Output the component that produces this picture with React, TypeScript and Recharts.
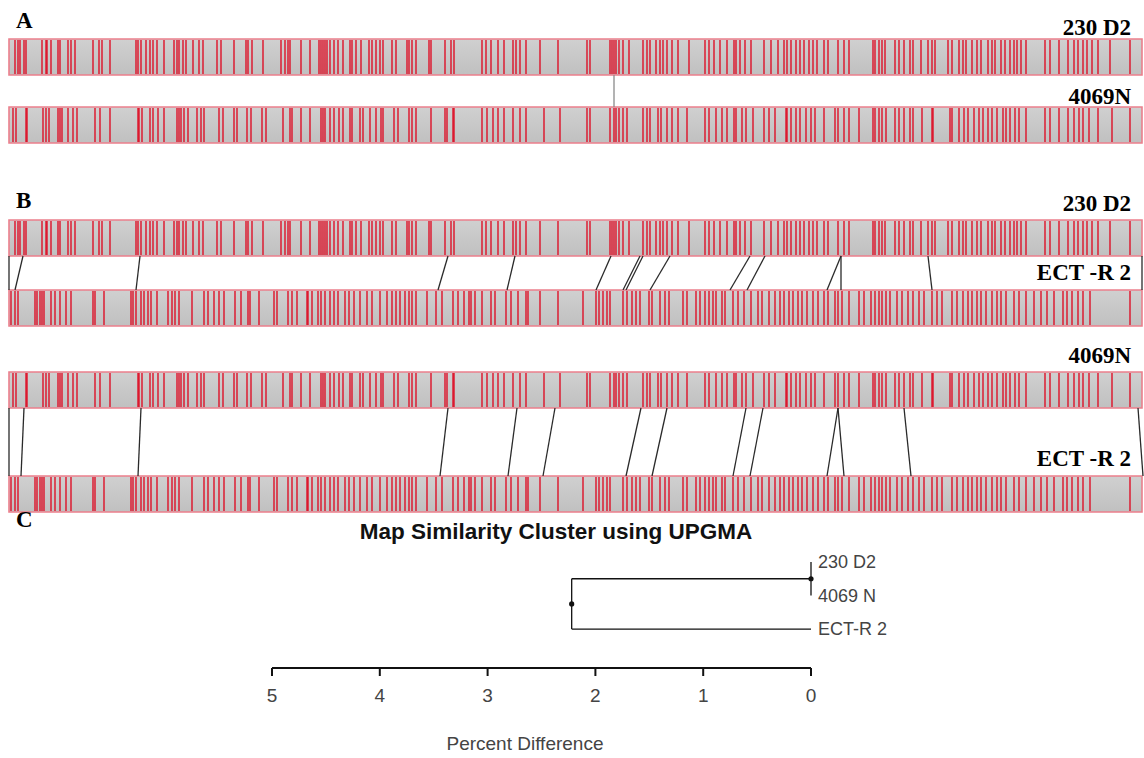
import React from "react"
import { ComposedChart, XAxis, YAxis, Scatter, ReferenceArea, ReferenceLine } from "recharts"

const W = 1144
const H = 758

// restriction site positions (map units = drawing width)
const sites230D2 = [
  15, 18, 20, 24, 26, 42, 46, 47, 51, 58, 60, 68, 71, 75, 93, 99, 102, 110, 136, 138, 141, 146, 150, 153, 157, 164,
  174, 177, 179, 183, 186, 193, 199, 203, 217, 221, 234, 246, 248, 252, 263, 281, 285, 288, 290, 301, 310, 319, 321,
  323, 325, 327, 330, 334, 338, 343, 350, 352, 356, 361, 369, 372, 376, 380, 383, 392, 396, 407, 409, 412, 416, 429,
  431, 445, 451, 454, 482, 486, 491, 498, 504, 513, 516, 520, 526, 540, 558, 587, 590, 610, 612, 614, 616, 619, 623,
  629, 643, 647, 650, 656, 660, 663, 667, 672, 678, 689, 705, 709, 714, 720, 727, 734, 736, 740, 745, 751, 764, 771,
  778, 784, 787, 791, 796, 800, 804, 809, 813, 817, 824, 828, 838, 844, 849, 873, 875, 879, 882, 885, 895, 899, 904,
  910, 913, 921, 928, 932, 935, 948, 952, 959, 963, 966, 972, 977, 981, 988, 992, 995, 1001, 1005, 1010, 1014, 1017,
  1021, 1026, 1045, 1050, 1059, 1068, 1074, 1078, 1083, 1087, 1092, 1098, 1110, 1130,
]
const sites4069N = [
  13, 16, 26, 27, 43, 46, 49, 58, 60, 62, 68, 73, 77, 95, 100, 110, 138, 139, 142, 150, 153, 158, 164, 177, 179, 181,
  184, 188, 197, 201, 204, 219, 223, 234, 237, 247, 251, 262, 266, 283, 290, 292, 301, 310, 321, 323, 325, 330, 334,
  339, 343, 350, 352, 360, 363, 370, 376, 381, 383, 394, 398, 409, 412, 416, 431, 445, 447, 453, 454, 482, 487, 493,
  498, 504, 513, 520, 526, 544, 560, 587, 590, 610, 614, 616, 619, 623, 627, 643, 647, 650, 658, 661, 667, 672, 678,
  687, 705, 709, 716, 722, 727, 734, 736, 742, 746, 753, 764, 769, 775, 786, 787, 791, 796, 800, 806, 811, 815, 824,
  835, 838, 844, 849, 859, 873, 875, 879, 882, 886, 895, 899, 904, 910, 913, 922, 932, 933, 950, 952, 959, 964, 968,
  974, 979, 983, 988, 992, 997, 1003, 1006, 1010, 1015, 1019, 1026, 1045, 1050, 1059, 1068, 1074, 1079, 1083, 1089,
  1098, 1112, 1130,
]
const sitesECTR2 = [
  11, 15, 18, 35, 37, 40, 42, 44, 51, 55, 60, 66, 71, 93, 95, 104, 131, 133, 136, 141, 144, 148, 151, 157, 168, 172,
  175, 179, 192, 204, 208, 214, 219, 224, 235, 241, 248, 250, 259, 274, 277, 288, 292, 297, 307, 308, 312, 318, 321,
  325, 330, 334, 338, 345, 349, 354, 360, 367, 372, 380, 387, 392, 396, 400, 405, 409, 412, 416, 427, 436, 442, 453,
  458, 464, 469, 471, 475, 482, 491, 495, 506, 511, 518, 526, 528, 540, 558, 583, 596, 599, 603, 607, 610, 623, 627,
  632, 636, 640, 649, 652, 660, 665, 669, 683, 687, 696, 700, 705, 709, 713, 716, 722, 725, 733, 738, 744, 751, 758,
  762, 769, 775, 780, 784, 789, 793, 798, 802, 807, 813, 818, 824, 828, 835, 838, 842, 849, 859, 864, 871, 875, 879,
  882, 886, 890, 897, 902, 908, 913, 919, 924, 932, 937, 942, 952, 957, 963, 968, 972, 977, 981, 986, 992, 997, 1001,
  1006, 1014, 1019, 1026, 1034, 1041, 1047, 1054, 1063, 1067, 1072, 1078, 1083, 1090, 1130,
]

// aligned fragment boundaries: [position on upper map, position on lower map]
const alignA = [[614, 614]]
const align230vsECT = [
  [9, 9], [23, 15], [140, 136], [448, 438], [515, 507], [611, 596], [640, 623], [643, 626], [670, 650],
  [750, 730], [765, 747], [841, 827], [841, 841], [928, 932], [1142, 1142],
]
const align4069vsECT = [
  [9, 9], [24, 21], [141, 138], [448, 440], [517, 508], [555, 543], [641, 626], [667, 652], [746, 733],
  [763, 750], [838, 827], [838, 844], [904, 911], [1138, 1143],
]

// UPGMA clustering
const leafNames = ["230 D2", "4069 N", "ECT-R 2"]
const mergeHeights = [0, 2.22] // percent difference at each merge
const pctTicks = [0, 1, 2, 3, 4, 5]

const MAP_START = 9
const MAP_END = 1142
const MAP_H = 36

const rows = [
  { key: "a1", sites: sites230D2, top: 39 },
  { key: "a2", sites: sites4069N, top: 107 },
  { key: "b1", sites: sites230D2, top: 220 },
  { key: "b2", sites: sitesECTR2, top: 290 },
  { key: "b3", sites: sites4069N, top: 372 },
  { key: "b4", sites: sitesECTR2, top: 476 },
]
const links = [
  { key: "la", pairs: alignA, from: 0, to: 1, color: "#8a8a8a" },
  { key: "lb1", pairs: align230vsECT, from: 2, to: 3, color: "#2a2a2a" },
  { key: "lb2", pairs: align4069vsECT, from: 4, to: 5, color: "#2a2a2a" },
]

const serif = "'Times New Roman', 'Liberation Serif', serif"
const sans = "Arial, 'Liberation Sans', sans-serif"

const SiteTick = (props: any) => {
  const { cx, cy } = props
  if (cx == null || cy == null) return null
  return (
    <line x1={cx} x2={cx} y1={cy - MAP_H / 2 + 1} y2={cy + MAP_H / 2 - 1} stroke="#e0001a" strokeWidth={1.4} strokeOpacity={0.92} />
  )
}

const NodeDot = (props: any) => <circle cx={props.cx} cy={props.cy} r={2.6} fill="#111" />

function Label({ text, x, y, right, size = 23 }: { text: string; x: number; y: number; right?: boolean; size?: number }) {
  return (
    <div
      style={{
        position: "absolute",
        top: y - size / 2,
        left: right ? undefined : x,
        right: right ? W - x : undefined,
        fontFamily: serif,
        fontWeight: "bold",
        fontSize: size,
        lineHeight: `${size}px`,
        whiteSpace: "nowrap",
        color: "#000",
      }}
    >
      {text}
    </div>
  )
}

function MapPanels() {
  return (
    <ComposedChart width={W} height={H} margin={{ top: 0, right: 0, bottom: 0, left: 0 }} style={{ position: "absolute", left: 0, top: 0 }}>
      <defs>
        <linearGradient id="mapFill" x1="0" y1="0" x2="0" y2="1">
          <stop offset="0%" stopColor="#d0d0d0" />
          <stop offset="100%" stopColor="#c0c0c0" />
        </linearGradient>
      </defs>
      <XAxis type="number" dataKey="x" domain={[0, W]} hide allowDataOverflow />
      <YAxis type="number" dataKey="y" domain={[0, H]} reversed hide allowDataOverflow />
      {rows.map((r) => (
        <ReferenceArea
          key={`box-${r.key}`}
          x1={MAP_START}
          x2={MAP_END}
          y1={r.top}
          y2={r.top + MAP_H}
          fill="url(#mapFill)"
          fillOpacity={1}
          stroke="#ec7f8c"
          strokeWidth={1.6}
          ifOverflow="visible"
        />
      ))}
      {rows.map((r) => (
        <Scatter
          key={`sites-${r.key}`}
          data={r.sites.map((x) => ({ x, y: r.top + MAP_H / 2 }))}
          shape={<SiteTick />}
          isAnimationActive={false}
        />
      ))}
      {links.map((l) =>
        l.pairs.map(([a, b], i) => (
          <ReferenceLine
            key={`${l.key}-${i}`}
            segment={[
              { x: a, y: rows[l.from].top + MAP_H },
              { x: b, y: rows[l.to].top },
            ]}
            stroke={l.color}
            strokeWidth={1.3}
            ifOverflow="visible"
          />
        ))
      )}
    </ComposedChart>
  )
}

function Dendrogram() {
  const [h1, h2] = mergeHeights
  const inner = 0.5 // y of the 230 D2 / 4069 N cluster
  const root = (inner + 2) / 2
  const segs = [
    [{ x: h1, y: 0 }, { x: h1, y: 1 }],
    [{ x: h1, y: inner }, { x: h2, y: inner }],
    [{ x: 0, y: 2 }, { x: h2, y: 2 }],
    [{ x: h2, y: inner }, { x: h2, y: 2 }],
  ]
  const nodes = [
    { x: h1, y: inner },
    { x: h2, y: root },
  ]
  return (
    <ComposedChart
      width={W}
      height={H}
      margin={{ top: 562, right: 233, bottom: 60, left: 272 }}
      style={{ position: "absolute", left: 0, top: 0 }}
    >
      <XAxis
        type="number"
        dataKey="x"
        domain={[0, 5]}
        ticks={pctTicks}
        reversed
        height={30}
        axisLine={{ stroke: "#111", strokeWidth: 2 }}
        tickLine={{ stroke: "#111", strokeWidth: 2 }}
        tickSize={8}
        tickMargin={13}
        tick={{ fill: "#444", fontSize: 19, fontFamily: sans }}
      />
      <YAxis
        type="number"
        dataKey="y"
        orientation="right"
        domain={[0, 3.16]}
        reversed
        ticks={[0, 1, 2]}
        interval={0}
        tickFormatter={(v: number) => leafNames[v]}
        width={100}
        axisLine={false}
        tickLine={false}
        tickSize={6}
        tickMargin={1}
        tick={{ fill: "#444", fontSize: 18, fontFamily: sans, textAnchor: "start" }}
      />
      {segs.map((s, i) => (
        <ReferenceLine key={`seg-${i}`} segment={s} stroke="#111" strokeWidth={1.3} ifOverflow="visible" />
      ))}
      <Scatter data={nodes} shape={<NodeDot />} isAnimationActive={false} />
    </ComposedChart>
  )
}

export default function App() {
  return (
    <div style={{ position: "absolute", left: 0, top: 0, width: W, height: H, background: "#fff", overflow: "hidden" }}>
      <MapPanels />
      <Dendrogram />
      <Label text="A" x={16} y={20} />
      <Label text="B" x={16} y={200} />
      <Label text="C" x={16} y={519} />
      <Label text="230 D2" x={1131} y={27} right />
      <Label text="4069N" x={1131} y={96} right />
      <Label text="230 D2" x={1131} y={203} right />
      <Label text="ECT -R 2" x={1131} y={272} right />
      <Label text="4069N" x={1131} y={355} right />
      <Label text="ECT -R 2" x={1131} y={458} right />
      <div
        style={{
          position: "absolute",
          left: 306,
          width: 500,
          top: 518,
          textAlign: "center",
          fontFamily: sans,
          fontWeight: "bold",
          fontSize: 22.5,
          lineHeight: "28px",
          color: "#111",
        }}
      >
        Map Similarity Cluster using UPGMA
      </div>
      <div
        style={{
          position: "absolute",
          left: 375,
          width: 300,
          top: 731,
          textAlign: "center",
          fontFamily: sans,
          fontSize: 19,
          lineHeight: "26px",
          color: "#444",
        }}
      >
        Percent Difference
      </div>
    </div>
  )
}
